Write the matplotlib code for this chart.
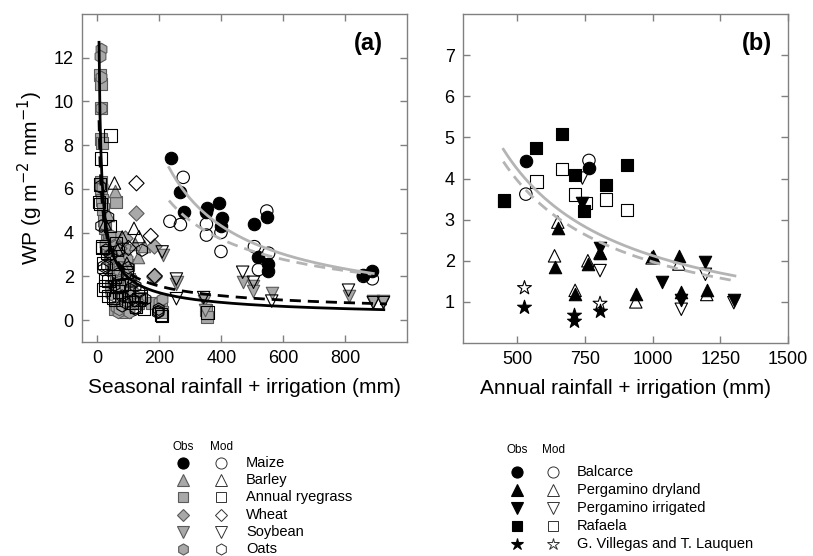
import numpy as np
import matplotlib.pyplot as plt
from matplotlib.lines import Line2D

plt.rcParams['font.family'] = ['Liberation Sans', 'DejaVu Sans']

# ---- panel (a): WP vs seasonal rainfall + irrigation ----
maize_obs_x = [236, 266, 279, 349, 354, 394, 402, 399, 507, 547, 520, 552, 552, 859, 888]
maize_obs_y = [7.40, 5.85, 4.94, 4.95, 5.14, 5.37, 4.65, 4.30, 4.38, 4.72, 2.88, 2.58, 2.23, 2.08, 2.23]
maize_mod_x = [277, 234, 268, 352, 352, 399, 399, 507, 547, 553, 520, 859, 888]
maize_mod_y = [6.53, 4.52, 4.37, 4.39, 3.89, 4.01, 3.14, 3.36, 4.99, 3.06, 2.31, 2.00, 1.89]

barley_obs_x = [55, 35, 70, 85, 100, 120, 60, 130, 150]
barley_obs_y = [5.9, 4.8, 3.0, 2.4, 1.9, 3.5, 1.5, 2.9, 3.4]
barley_mod_x = [55, 25, 118, 134, 65, 95, 110, 80]
barley_mod_y = [6.27, 4.4, 4.2, 3.82, 3.2, 2.6, 1.8, 3.8]

rye_obs_x = [8, 10, 10, 12, 12, 15, 10, 14, 20, 18, 25, 30, 35, 40, 45, 50, 59, 60,
             70, 75, 80, 90, 100, 110, 120, 130, 65, 85, 105, 45, 205, 350, 355, 140, 95, 60,
             69, 90, 101, 80, 58, 123, 90, 176, 209, 36]
rye_obs_y = [11.2, 10.8, 9.7, 8.3, 6.3, 8.1, 6.0, 5.5, 4.6, 5.1, 4.2, 3.6, 3.3, 2.9, 2.6, 2.3, 5.4, 1.9,
             1.7, 2.8, 1.4, 1.2, 2.5, 1.1, 0.9, 0.8, 0.6, 3.2, 1.8, 1.5, 0.6, 0.45, 0.15, 1.0, 0.7, 3.8,
             3.36, 2.76, 1.86, 1.1, 0.5, 0.8, 0.35, 0.8, 0.35, 3.67]
rye_mod_x = [8, 10, 12, 42, 5, 16, 24, 20, 30, 50, 55, 70, 80, 95, 110, 125, 140, 150, 205, 355, 60, 40, 35,
             20, 36, 69, 58, 101, 133, 15, 26, 209]
rye_mod_y = [6.2, 5.3, 7.4, 8.45, 5.4, 3.3, 1.55, 2.6, 3.1, 1.0, 2.0, 1.3, 1.6, 2.2, 0.8, 0.6, 1.1, 0.5,
             0.25, 0.35, 3.5, 4.3, 1.8, 1.4, 1.1, 1.55, 0.95, 1.1, 0.95, 3.37, 1.86, 0.2]

wheat_obs_x = [126, 182, 182, 90, 70, 181]
wheat_obs_y = [4.92, 3.40, 1.95, 3.75, 3.3, 2.0]
wheat_mod_x = [126, 172, 185, 100]
wheat_mod_y = [6.26, 3.85, 2.02, 3.3]

soy_obs_x = [211, 255, 258, 343, 348, 469, 504, 504, 563, 811, 891, 924]
soy_obs_y = [2.98, 1.63, 1.75, 0.86, 0.45, 1.73, 1.55, 1.33, 1.22, 1.10, 0.87, 0.87]
soy_mod_x = [209, 255, 255, 343, 469, 504, 563, 811, 891, 924]
soy_mod_y = [3.12, 1.88, 0.98, 1.03, 2.19, 1.73, 0.87, 1.37, 0.80, 0.80]

oats_obs_x = [12, 7, 10, 10, 15, 20, 25, 40, 50, 65, 70, 80, 90, 100, 115, 130, 60, 75, 95, 195, 200, 55, 45,
              69, 101, 209, 69, 58]
oats_obs_y = [12.4, 12.1, 11.1, 9.7, 6.1, 4.4, 3.5, 3.9, 3.0, 0.35, 2.5, 2.1, 1.5, 1.9, 1.3, 0.8, 0.6, 1.0,
              2.8, 0.4, 0.85, 3.4, 1.2, 0.5, 0.35, 0.95, 2.31, 2.91]
oats_mod_x = [8, 12, 18, 27, 31, 35, 45, 55, 65, 80, 90, 105, 120, 123, 135, 197, 195, 70, 100,
              20, 123, 80, 123, 155, 198, 144]
oats_mod_y = [6.1, 4.3, 2.3, 3.2, 2.46, 4.7, 3.0, 1.6, 2.1, 1.1, 0.8, 1.4, 0.9, 0.57, 1.3, 0.4, 0.35, 3.2, 2.4,
              2.46, 1.55, 0.65, 0.5, 0.95, 0.5, 3.2]

# fitted power curves y = a * (x / x0) ** b
fit_all_obs = dict(a=3.96, x0=32, b=-0.628, lo=5, hi=925)
fit_all_mod = dict(a=1.22, x0=332, b=-0.48, lo=5, hi=935)
fit_maize_obs = dict(a=6.98, x0=231, b=-0.878, lo=231, hi=891)
fit_maize_mod = dict(a=5.47, x0=231, b=-0.711, lo=231, hi=885)

# ---- panel (b): WP vs annual rainfall + irrigation ----
balc_obs_x = [532, 765]
balc_obs_y = [4.43, 4.25]
balc_mod_x = [532, 765]
balc_mod_y = [3.62, 4.44]

pdry_obs_x = [650, 638, 714, 761, 806, 938, 1002, 1097, 1106, 1200]
pdry_obs_y = [2.80, 1.86, 1.18, 1.91, 2.20, 1.20, 2.12, 2.12, 1.24, 1.30]
pdry_mod_x = [650, 638, 714, 761, 806, 938, 998, 1097, 1200]
pdry_mod_y = [2.94, 2.12, 1.28, 2.00, 2.19, 1.00, 2.07, 1.92, 1.18]

pirr_obs_x = [741, 806, 1035, 1106, 1195, 1300]
pirr_obs_y = [3.41, 2.30, 1.48, 1.04, 1.96, 1.04]
pirr_mod_x = [741, 806, 1106, 1195, 1300]
pirr_mod_y = [4.01, 1.76, 0.82, 1.67, 0.98]

raf_obs_x = [451, 571, 665, 714, 748, 827, 906]
raf_obs_y = [3.45, 4.75, 5.09, 4.09, 3.21, 3.83, 4.34]
raf_mod_x = [451, 571, 665, 714, 753, 827, 906]
raf_mod_y = [3.47, 3.93, 4.23, 3.61, 3.41, 3.49, 3.23]

gvil_obs_x = [527, 708, 708, 806]
gvil_obs_y = [0.88, 0.68, 0.54, 0.78]
gvil_mod_x = [527, 806]
gvil_mod_y = [1.34, 0.96]

fit_site_obs = dict(a=4.71, x0=449, b=-0.994, lo=449, hi=1304)
fit_site_mod = dict(a=4.41, x0=449, b=-1.004, lo=449, hi=1304)

GREY = '#a8a8a8'
GREY_EDGE = '#5a5a5a'
CURVE_GREY = '#b4b4b4'
W, H = 813, 556


def curve(ax, p, **kw):
    x = np.linspace(p['lo'], p['hi'], 300)
    ax.plot(x, p['a'] * (x / p['x0']) ** p['b'], **kw)


def style_axes(ax):
    for s in ax.spines.values():
        s.set_color('#808080')
        s.set_linewidth(1.0)
    ax.tick_params(direction='in', top=True, right=True, length=5, width=1,
                   color='#808080', labelsize=13, pad=6)


fig = plt.figure(figsize=(W / 100, H / 100), dpi=100)
ax1 = fig.add_axes([82 / W, 1 - 342 / H, 325 / W, 328 / H])
ax2 = fig.add_axes([463 / W, 1 - 343 / H, 325 / W, 329 / H])

S = 80
obs_kw = dict(s=S, c=GREY, edgecolors=GREY_EDGE, linewidths=0.8)
mod_kw = dict(s=S, facecolors='none', edgecolors='black', linewidths=0.8)

ax1.scatter(rye_obs_x, rye_obs_y, marker='s', **obs_kw)
ax1.scatter(oats_obs_x, oats_obs_y, marker='h', **obs_kw)
ax1.scatter(barley_obs_x, barley_obs_y, marker='^', **obs_kw)
ax1.scatter(wheat_obs_x, wheat_obs_y, marker='D', **dict(obs_kw, s=60))
ax1.scatter(soy_obs_x, soy_obs_y, marker='v', **obs_kw)
ax1.scatter(rye_mod_x, rye_mod_y, marker='s', **mod_kw)
ax1.scatter(oats_mod_x, oats_mod_y, marker='h', **mod_kw)
ax1.scatter(barley_mod_x, barley_mod_y, marker='^', **mod_kw)
ax1.scatter(wheat_mod_x, wheat_mod_y, marker='D', **dict(mod_kw, s=60))
ax1.scatter(soy_mod_x, soy_mod_y, marker='v', **mod_kw)
ax1.scatter(maize_mod_x, maize_mod_y, marker='o', **mod_kw)
ax1.scatter(maize_obs_x, maize_obs_y, marker='o', s=S, c='black', edgecolors='black', linewidths=0.8)

curve(ax1, fit_all_mod, color='black', lw=2.0, ls=(0, (4, 2.5)))
curve(ax1, fit_all_obs, color='black', lw=2.0)
curve(ax1, fit_maize_obs, color=CURVE_GREY, lw=2.0)
curve(ax1, fit_maize_mod, color=CURVE_GREY, lw=2.0, ls=(0, (4, 2.5)))

ax1.set_xlim(-50, 1000)
ax1.set_ylim(-1, 14)
ax1.set_xticks([0, 200, 400, 600, 800])
ax1.set_yticks(range(0, 13, 2))
style_axes(ax1)
ax1.set_xlabel('Seasonal rainfall + irrigation (mm)', fontsize=15, labelpad=8)
ax1.set_ylabel('WP (g m$^{-2}$ mm$^{-1}$)', fontsize=15, labelpad=6)
ax1.text(0.88, 0.91, '(a)', transform=ax1.transAxes, fontsize=17, fontweight='bold',
         ha='center', va='center')

# panel (b)
curve(ax2, fit_site_obs, color=CURVE_GREY, lw=2.0)
curve(ax2, fit_site_mod, color=CURVE_GREY, lw=2.0, ls=(0, (4, 2.5)))
bk = dict(s=S, c='black', edgecolors='black', linewidths=0.8)
ax2.scatter(raf_obs_x, raf_obs_y, marker='s', **bk)
ax2.scatter(balc_obs_x, balc_obs_y, marker='o', **bk)
ax2.scatter(pdry_obs_x, pdry_obs_y, marker='^', **bk)
ax2.scatter(pirr_obs_x, pirr_obs_y, marker='v', **bk)
ax2.scatter(gvil_obs_x, gvil_obs_y, marker='*', **dict(bk, s=110))
ax2.scatter(raf_mod_x, raf_mod_y, marker='s', **mod_kw)
ax2.scatter(balc_mod_x, balc_mod_y, marker='o', **mod_kw)
ax2.scatter(pdry_mod_x, pdry_mod_y, marker='^', **mod_kw)
ax2.scatter(pirr_mod_x, pirr_mod_y, marker='v', **mod_kw)
ax2.scatter(gvil_mod_x, gvil_mod_y, marker='*', **dict(mod_kw, s=110))

ax2.set_xlim(300, 1500)
ax2.set_ylim(0, 8)
ax2.set_xticks([500, 750, 1000, 1250, 1500])
ax2.set_yticks(range(1, 8))
style_axes(ax2)
ax2.set_xlabel('Annual rainfall + irrigation (mm)', fontsize=15, labelpad=8)
ax2.text(0.905, 0.91, '(b)', transform=ax2.transAxes, fontsize=17, fontweight='bold',
         ha='center', va='center')

# ---- legends below the panels ----
def fx(x):
    return x / W


def fy(y):
    return 1 - y / H


def legend_block(x_obs, x_mod, x_lab, y_head, y0, dy, rows):
    fig.text(fx(x_obs), fy(y_head), 'Obs', fontsize=8.5, ha='center', va='center')
    fig.text(fx(x_mod), fy(y_head), 'Mod', fontsize=8.5, ha='center', va='center')
    for i, (label, marker, face, edge, ms) in enumerate(rows):
        y = y0 + i * dy
        fig.add_artist(Line2D([fx(x_obs)], [fy(y)], marker=marker, ms=ms, mfc=face,
                              mec=edge, mew=0.8, ls='none', transform=fig.transFigure))
        fig.add_artist(Line2D([fx(x_mod)], [fy(y)], marker=marker, ms=ms, mfc='white',
                              mec='#333333', mew=0.7, ls='none', transform=fig.transFigure))
        fig.text(fx(x_lab), fy(y), label, fontsize=10.5, ha='left', va='center')


crop_rows = [('Maize', 'o', 'black', 'black', 8),
             ('Barley', '^', GREY, GREY_EDGE, 8),
             ('Annual ryegrass', 's', GREY, GREY_EDGE, 7),
             ('Wheat', 'D', GREY, GREY_EDGE, 6.5),
             ('Soybean', 'v', GREY, GREY_EDGE, 8),
             ('Oats', 'h', GREY, GREY_EDGE, 8)]
legend_block(183, 221, 246, 447, 463, 17.2, crop_rows)

site_rows = [('Balcarce', 'o', 'black', 'black', 8),
             ('Pergamino dryland', '^', 'black', 'black', 8),
             ('Pergamino irrigated', 'v', 'black', 'black', 8),
             ('Rafaela', 's', 'black', 'black', 7),
             ('G. Villegas and T. Lauquen', '*', 'black', 'black', 9)]
legend_block(517, 553, 577, 450, 472, 18, site_rows)

fig.savefig('out.png', dpi=100)
